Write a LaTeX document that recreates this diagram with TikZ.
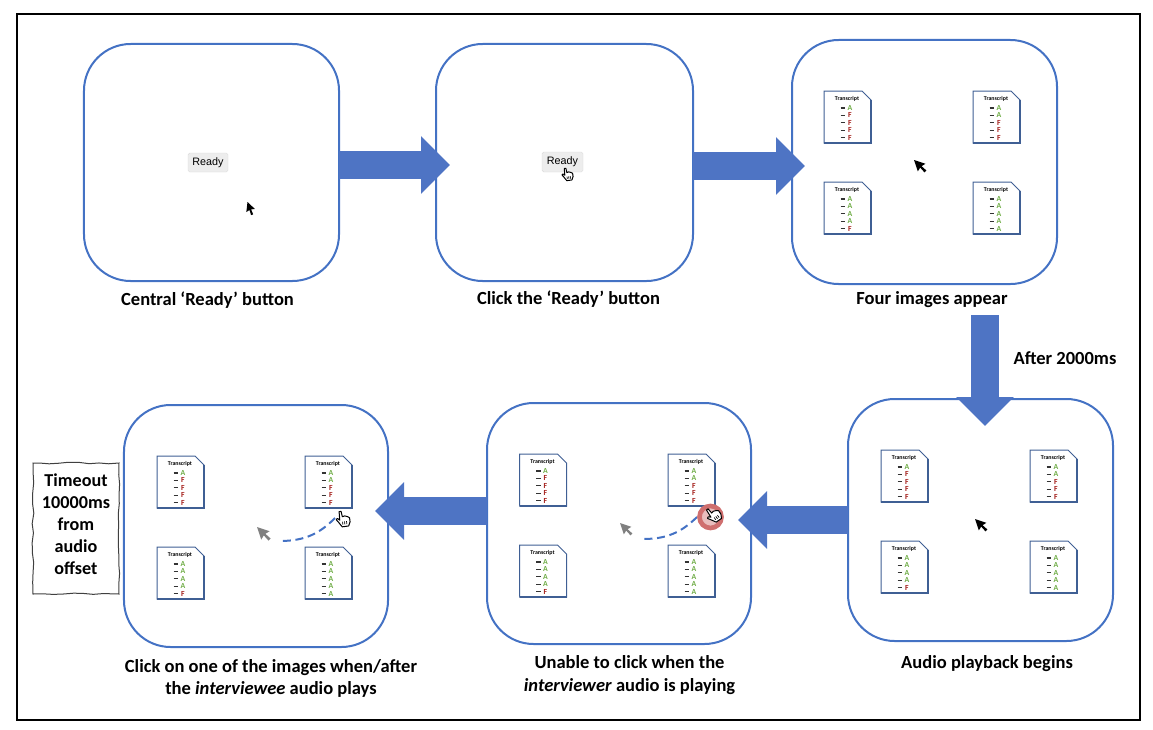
\documentclass[tikz,border=0pt]{standalone}
\usepackage{fontspec}
\setmainfont{Carlito}
\newfontfamily\btnfont{Liberation Sans}
\usetikzlibrary{arrows.meta}
\usetikzlibrary{decorations.pathmorphing}
\definecolor{panelblue}{HTML}{4472C4}
\definecolor{arrowblue}{HTML}{4E74C4}
\definecolor{docblue}{HTML}{3F5F94}
\definecolor{okgreen}{HTML}{70AD47}
\definecolor{badred}{HTML}{A5201C}
\definecolor{stopred}{HTML}{CF6F6F}

% one sheet: name, left, top, letters
\newcommand{\transcript}[4]{
    \begin{scope}[shift={(#2,#3)}]
        \draw[sheet] (0,0) -- (38,0) -- (47,9) -- (47,52) -- (0,52) -- cycle;
        \draw[sheet, line width=0.05cm] (47,9) -- (47,52) -- (0,52);
        \node[sheettitle] (#1title) at (23,8) {Transcript};
        \foreach \letter [count=\row from 0] in {#4} {
            \draw[line width=0.035cm, black!80] (16.5,17+7.4*\row) -- (21,17+7.4*\row);
            \if F\letter
                \node[sheetletter, badred] (#1row\row) at (26,17+7.4*\row) {F};
            \else
                \node[sheetletter, okgreen] (#1row\row) at (26,17+7.4*\row) {A};
            \fi
        }
    \end{scope}
}
% mouse arrow: left, top, size, colour
\newcommand{\pointer}[4]{
    \fill[shift={(#1,#2)}, scale=#3, #4] (0,0) -- (12,4) -- (8,6.5) -- (13,11) -- (11,13) -- (6.5,8) -- (4,12) -- cycle;
}
% pointing hand: finger tip x, y, turn, size
\newcommand{\handcursor}[4]{
    \begin{scope}[shift={(#1,#2)}, rotate=#3, scale=#4]
        \draw[fill=white, line width=0.03cm, line join=round] (-1,0.5) -- (1,0.5) -- (1.5,6) -- (4,5.5) -- (6.5,6.5) -- (8.5,8) -- (8.5,12) -- (6.5,16) -- (0,16) -- (-3,11) -- (-5,8) -- (-3.5,7) -- (-1.5,9) -- cycle;
        \draw[line width=0.02cm] (1,11) -- (1,14) (3,11) -- (3,14) (5,11) -- (5,14);
    \end{scope}
}

\begin{document}
\begin{tikzpicture}[x=0.03cm, y=-0.03cm]
        %style
        \tikzset{panel/.style = {shape=rectangle, draw=panelblue, line width=0.06cm, rounded corners=1.4cm, outer sep=0pt}}
        \tikzset{blockarrow/.style = {draw=arrowblue, line width=0.84cm, -{Triangle[length=0.87cm, width=1.68cm]}}}
        \tikzset{caption/.style = {font=\fontsize{15.8}{19.5}\selectfont\bfseries, align=center}}
        \tikzset{readybtn/.style = {shape=rectangle, draw=black!14, fill=black!7, rounded corners=0.05cm, font=\btnfont\fontsize{9.2}{10}\selectfont, inner sep=0pt}}
        \tikzset{sheet/.style = {draw=docblue, fill=white, line width=0.03cm}}
        \tikzset{sheettitle/.style = {font=\fontsize{5}{6}\selectfont\bfseries, inner sep=0pt}}
        \tikzset{sheetletter/.style = {font=\fontsize{6.6}{7}\selectfont\bfseries, inner sep=0pt}}
        \tikzset{trail/.style = {draw=panelblue, line width=0.06cm, dash pattern=on 0.24cm off 0.14cm}}
        \useasboundingbox (0,0) rectangle (1153,729);
        \node[draw, line width=0.05cm, minimum width=33.69cm, minimum height=21.18cm] (frame) at (578.5,367) {};
        \node[panel, minimum width=7.65cm, minimum height=7.11cm] (ready)   at (211.5,162.5) {};
        \node[panel, minimum width=7.71cm, minimum height=7.11cm] (click)   at (564.5,162.5) {};
        \node[panel, minimum width=7.95cm, minimum height=7.32cm] (four)    at (924.5,162) {};
        \node[panel, minimum width=7.95cm, minimum height=7.26cm] (audio)   at (980.5,520) {};
        \node[panel, minimum width=7.92cm, minimum height=7.23cm] (unable)  at (619,523.5) {};
        \node[panel, minimum width=7.92cm, minimum height=7.26cm] (choose)  at (256,526) {};
        \node[caption] (readytxt)  at (207.5,300) {Central ‘Ready’ button};
        \node[caption] (clicktxt)  at (568.5,299) {Click the ‘Ready’ button};
        \node[caption] (fourtxt)   at (932,300) {Four images appear};
        \node[caption] (audiotxt)  at (987,664) {Audio playback begins};
        \node[caption] (unabletxt) at (629.5,675) {Unable to click when the\\\textit{interviewer} audio is playing};
        \node[caption] (choosetxt) at (271,678.5) {Click on one of the images when/after\\the \textit{interviewee} audio plays};
        \node[caption] (aftertxt)  at (1065,358) {After 2000ms};
        \pgfmathsetseed{7}
        \node[minimum width=2.58cm, minimum height=3.93cm, draw=black!75, line width=0.03cm, decorate, decoration={random steps, segment length=0.3cm, amplitude=0.025cm}] (timeout) at (76,528.5) {};
        \node[caption, font=\fontsize{15.5}{18.7}\selectfont\bfseries] (timeouttxt) at (76,524) {Timeout\\10000ms\\from\\audio\\offset};
        \node[readybtn, minimum width=1.2cm, minimum height=0.57cm] (btnone) at (208,162.5) {Ready};
        \node[readybtn, minimum width=1.23cm, minimum height=0.6cm] (btntwo) at (562.5,162) {Ready};
        \coordinate (fourfoot) at (985,315);
        \coordinate (fourtip)  at (985,426);
        \draw[blockarrow, shorten >=-0.42cm] (ready.east |- 0,165) -- (click.west |- 0,165);
        \draw[blockarrow, shorten >=-0.39cm] (click.east |- 0,166) -- (four.west |- 0,166);
        \draw[blockarrow] (fourfoot) -- (fourtip);
        \draw[blockarrow, shorten >=-0.39cm] (audio.west |- 0,520) -- (unable.east |- 0,520);
        \draw[blockarrow, shorten >=-0.39cm] (unable.west |- 0,511) -- (choose.east |- 0,511);
        \transcript{fa}{824}{91}{A,F,F,F,F}
        \transcript{fb}{973}{91}{A,A,F,F,F}
        \transcript{fc}{824}{182}{A,A,A,A,F}
        \transcript{fd}{973}{182}{A,A,A,A,A}
        \transcript{pa}{881}{450}{A,F,F,F,F}
        \transcript{pb}{1030}{450}{A,A,F,F,F}
        \transcript{pc}{881}{541}{A,A,A,A,F}
        \transcript{pd}{1030}{541}{A,A,A,A,A}
        \transcript{ua}{519.5}{454}{A,F,F,F,F}
        \transcript{ub}{668}{454}{A,A,F,F,F}
        \transcript{uc}{519.5}{545}{A,A,A,A,F}
        \transcript{ud}{668}{545}{A,A,A,A,A}
        \transcript{ca}{157}{456}{A,F,F,F,F}
        \transcript{cb}{305}{456}{A,A,F,F,F}
        \transcript{cc}{157}{547}{A,A,A,A,F}
        \transcript{cd}{305}{547}{A,A,A,A,A}
        \pointer{247.5}{202}{0.8}{black, rotate=-25}
        \pointer{914}{160}{0.95}{black}
        \pointer{975}{519}{0.95}{black}
        \pointer{620}{523}{0.95}{black!50}
        \pointer{257}{527}{1.05}{black!50}
        \coordinate (unablefrom) at (697,517);
        \coordinate (unableto)   at (644,539);
        \coordinate (choosefrom) at (335,518);
        \coordinate (chooseto)   at (282,541);
        \draw[trail] (unablefrom) to[bend left=22] (unableto);
        \draw[trail] (choosefrom) to[bend left=22] (chooseto);
        \handcursor{565}{168}{8}{0.8}
        \handcursor{340}{511}{8}{1}
        \node[shape=circle, draw=stopred, fill=stopred!45, line width=0.14cm, minimum size=0.66cm, inner sep=0pt] (stop) at (710.5,517) {};
        \handcursor{707}{509}{35}{1}
\end{tikzpicture}
\end{document}
